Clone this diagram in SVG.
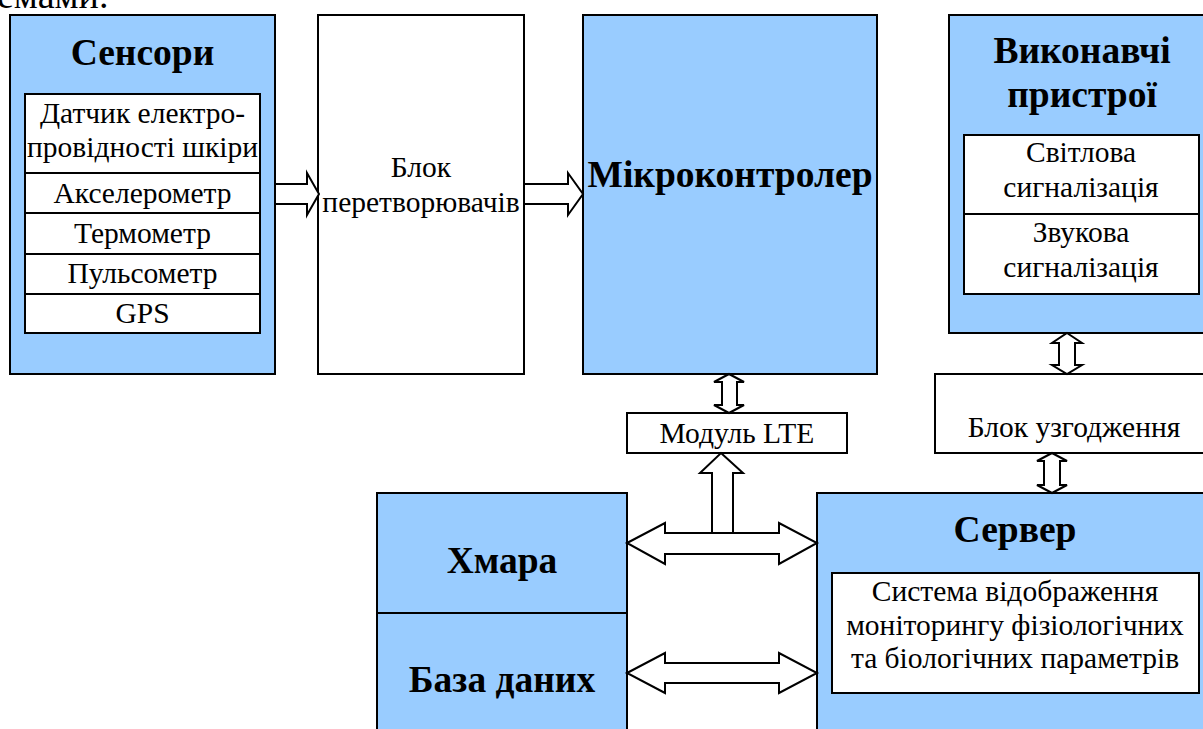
<svg xmlns="http://www.w3.org/2000/svg" width="1203" height="729" viewBox="0 0 1203 729">
<style>
.blue{fill:#99CCFF;stroke:#000;stroke-width:2}
.white{fill:#fff;stroke:#000;stroke-width:2}
.arr{fill:#fff;stroke:#000;stroke-width:2;stroke-linejoin:miter}
text{font-family:"Liberation Serif",serif;fill:#000;text-anchor:middle}
.t{font-size:29.5px;font-weight:normal;font-style:normal}
.b{font-size:37.5px;font-weight:bold}
</style>
<rect width="1203" height="729" fill="#fff"/>
<text class="t" x="-3" y="8" style="font-size:38px;text-anchor:start">емами.</text>
<g id="sensors">
<rect class="blue" x="10" y="15" width="265" height="359"/>
<text class="b" x="142.5" y="65">Сенсори</text>
<rect class="white" x="25" y="94" width="235" height="79"/>
<rect class="white" x="25" y="173" width="235" height="40"/>
<rect class="white" x="25" y="213" width="235" height="41"/>
<rect class="white" x="25" y="254" width="235" height="40"/>
<rect class="white" x="25" y="294" width="235" height="39"/>
<text class="t" x="142.5" y="123">Датчик електро-</text>
<text class="t" x="142.5" y="157">провідності шкіри</text>
<text class="t" x="142.5" y="203">Акселерометр</text>
<text class="t" x="142.5" y="243">Термометр</text>
<text class="t" x="142.5" y="283">Пульсометр</text>
<text class="t" x="142.5" y="323">GPS</text>
</g>
<g id="converters">
<rect class="white" x="318" y="15" width="206" height="359"/>
<text class="t" x="421" y="177">Блок</text>
<text class="t" x="421" y="212">перетворювачів</text>
</g>
<g id="mcu">
<rect class="blue" x="583" y="15" width="294" height="359"/>
<text class="b" x="730" y="187">Мікроконтролер</text>
</g>
<g id="actuators">
<rect class="blue" x="949" y="15" width="264" height="318"/>
<text class="b" x="1082" y="63">Виконавчі</text>
<text class="b" x="1082" y="107">пристрої</text>
<rect class="white" x="964" y="135" width="235" height="79"/>
<rect class="white" x="964" y="214" width="235" height="80"/>
<text class="t" x="1081" y="162">Світлова</text>
<text class="t" x="1081" y="197">сигналізація</text>
<text class="t" x="1081" y="242">Звукова</text>
<text class="t" x="1081" y="277">сигналізація</text>
</g>
<g id="matching">
<rect class="white" x="935" y="374" width="278" height="79"/>
<text class="t" x="1074" y="437">Блок узгодження</text>
</g>
<g id="lte">
<rect class="white" x="627" y="413" width="220" height="40"/>
<text class="t" x="737" y="443">Модуль LTE</text>
</g>
<g id="cloud">
<rect class="blue" x="377" y="493" width="250" height="250"/>
<line x1="377" y1="613" x2="627" y2="613" stroke="#000" stroke-width="2"/>
<text class="b" x="502" y="573">Хмара</text>
<text class="b" x="502" y="692">База даних</text>
</g>
<g id="server">
<rect class="blue" x="817" y="493" width="396" height="250"/>
<text class="b" x="1015" y="542">Сервер</text>
<rect class="white" x="832" y="573" width="367" height="120"/>
<text class="t" x="1015" y="601">Система відображення</text>
<text class="t" x="1015" y="635">моніторингу фізіологічних</text>
<text class="t" x="1015" y="668">та біологічних параметрів</text>
</g>
<g id="connectors">
<polygon class="arr" points="275,184 307,184 307,173 319,194 307,215 307,204 275,204"/>
<polygon class="arr" points="524,184 568,184 568,173 583,194 568,215 568,204 524,204"/>
<polygon class="arr" points="729,374 744,382 737,382 737,405 744,405 729,413 714,405 722,405 722,382 714,382"/>
<polygon class="arr" points="721,453 743,473 733,473 733,533 712,533 712,473 700,473"/>
<polygon class="arr" points="627,543 665,523 665,533 779,533 779,523 817,543 779,564 779,554 665,554 665,564"/>
<polygon class="arr" points="627,673 665,653 665,663 779,663 779,653 817,673 779,693 779,683 665,683 665,693"/>
<polygon class="arr" points="1067,333 1082,343 1075,343 1075,365 1082,365 1067,374 1052,365 1059,365 1059,343 1052,343"/>
<polygon class="arr" points="1052,453 1067,461 1060,461 1060,485 1067,485 1052,493 1037,485 1044,485 1044,461 1037,461"/>
</g>
</svg>
